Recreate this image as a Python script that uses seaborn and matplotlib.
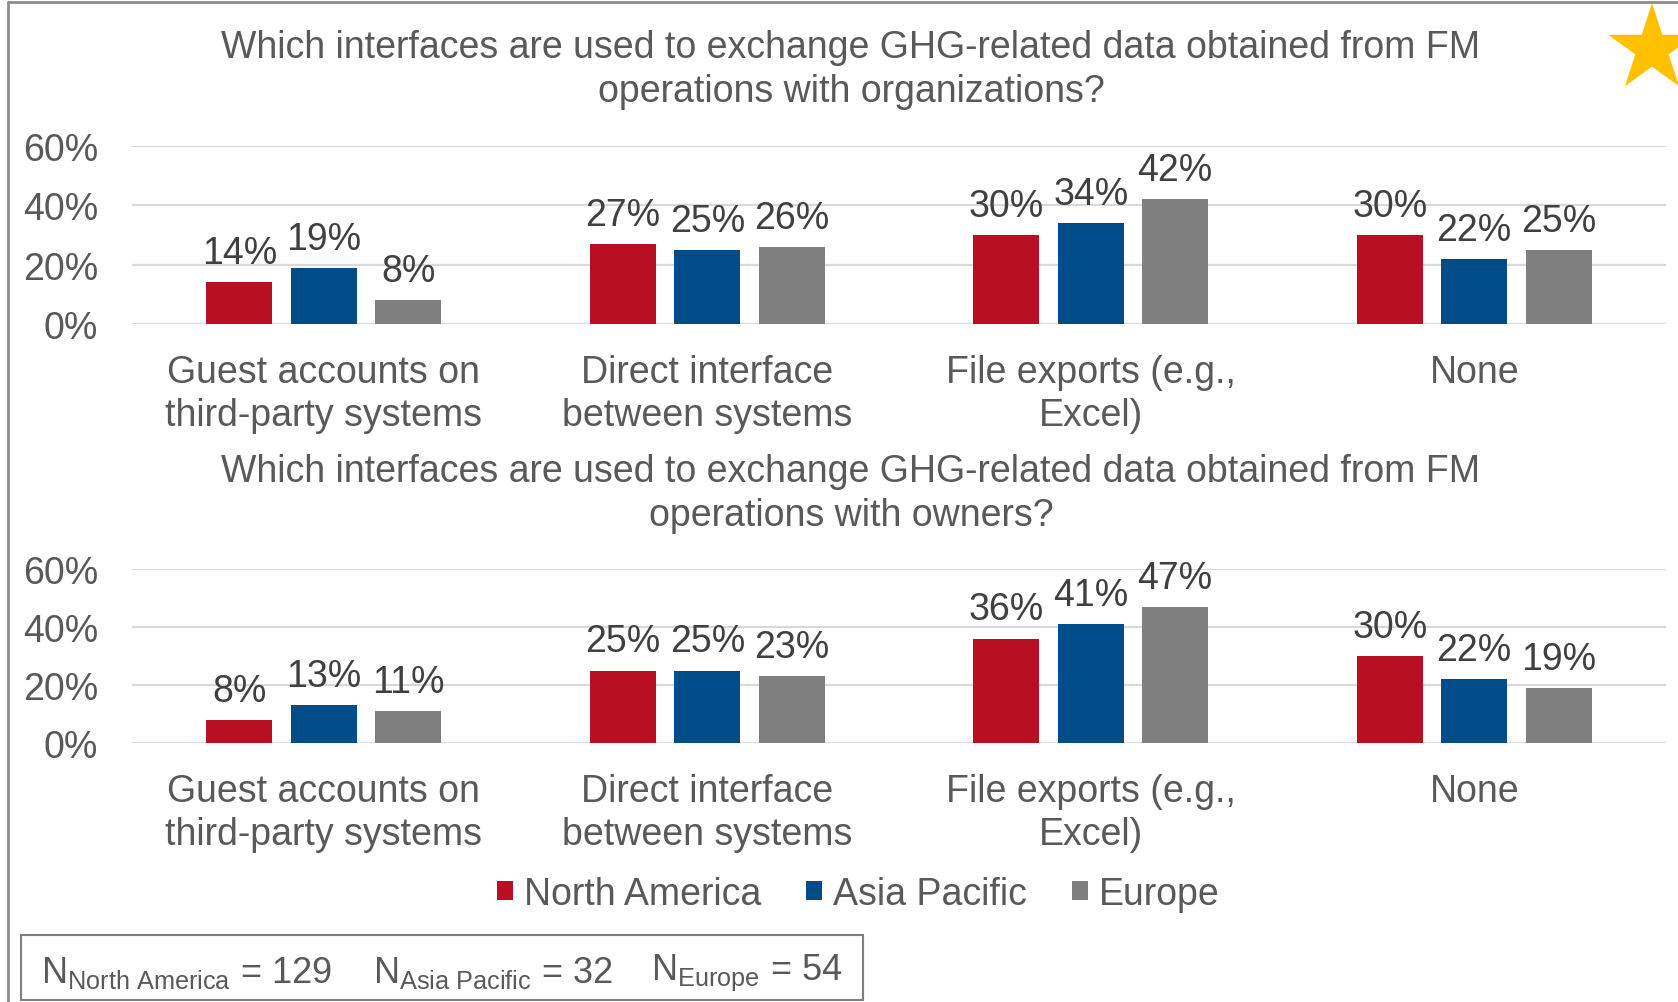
import numpy as np
import pandas as pd
import matplotlib
matplotlib.use("Agg")
import matplotlib.pyplot as plt
from matplotlib.lines import Line2D
from matplotlib.patches import Polygon, Rectangle
from matplotlib.ticker import PercentFormatter
import seaborn as sns

# ---- data -------------------------------------------------------------
categories = [
    "Guest accounts on\nthird-party systems",
    "Direct interface\nbetween systems",
    "File exports (e.g.,\nExcel)",
    "None",
]
regions = ["North America", "Asia Pacific", "Europe"]

# share of respondents (%) exchanging data with organizations
org_north_america = [14, 27, 30, 30]
org_asia_pacific = [19, 25, 34, 22]
org_europe = [8, 26, 42, 25]

# share of respondents (%) exchanging data with owners
own_north_america = [8, 25, 36, 30]
own_asia_pacific = [13, 25, 41, 22]
own_europe = [11, 23, 47, 19]

sample_sizes = [129, 32, 54]

title_org = ("Which interfaces are used to exchange GHG-related data obtained from FM\n"
             "operations with organizations?")
title_own = ("Which interfaces are used to exchange GHG-related data obtained from FM\n"
             "operations with owners?")

y_ticks = [0, 20, 40, 60]

# ---- style ------------------------------------------------------------
sns.set_theme(style="white")
plt.rcParams["font.family"] = ["Liberation Sans", "DejaVu Sans"]
plt.rcParams["mathtext.fontset"] = "custom"
plt.rcParams["mathtext.rm"] = "Liberation Sans"
plt.rcParams["mathtext.it"] = "Liberation Sans:italic"

TEXT = "#595959"
GRID = "#D9D9D9"
FS = 27
palette = {"North America": "#B80F22", "Asia Pacific": "#004C89", "Europe": "#7F7F7F"}

W, H = 1678, 1003
fig = plt.figure(figsize=(W / 100, H / 100), dpi=100)


def frac_box(left, top, right, bottom):
    """Pixel box -> figure-fraction rect."""
    return [left / W, 1 - bottom / H, (right - left) / W, (bottom - top) / H]


def long_frame(na, ap, eu):
    rows = []
    for vals, reg in zip([na, ap, eu], regions):
        for cat, v in zip(categories, vals):
            rows.append({"category": cat, "region": reg, "value": v})
    return pd.DataFrame(rows)


def draw_panel(ax, df, show_legend=False):
    sns.barplot(data=df, x="category", y="value", hue="region",
                order=categories, hue_order=regions, palette=palette,
                width=0.66, gap=0.22, saturation=1, legend=show_legend,
                linewidth=0, ax=ax, zorder=3)
    ax.set_ylim(0, 60)
    ax.set_xlim(-0.5, 3.5)
    ax.set_yticks(y_ticks)
    ax.yaxis.set_major_formatter(PercentFormatter(decimals=0))
    ax.grid(axis="y", color=GRID, linewidth=1.6, zorder=0)
    ax.set_axisbelow(True)
    for s in ax.spines.values():
        s.set_visible(False)
    ax.set_xlabel("")
    ax.set_ylabel("")
    ax.tick_params(axis="y", length=0, pad=24.5, labelsize=FS, labelcolor=TEXT)
    ax.tick_params(axis="x", length=0, pad=21.5, labelsize=FS, labelcolor=TEXT)
    for lab in ax.get_xticklabels():
        lab.set_linespacing(1.25)
    for cont in ax.containers:
        ax.bar_label(cont, labels=[f"{v:.0f}%" for v in cont.datavalues],
                     padding=8, fontsize=FS, color="#404040", clip_on=False)


ax1 = fig.add_axes(frac_box(132, 147, 1666, 325))
draw_panel(ax1, long_frame(org_north_america, org_asia_pacific, org_europe))

ax2 = fig.add_axes(frac_box(132, 570, 1666, 744))
draw_panel(ax2, long_frame(own_north_america, own_asia_pacific, own_europe), show_legend=True)

# titles
for title, y in [(title_org, 70), (title_own, 494)]:
    fig.text(851 / W, 1 - y / H, title, ha="center", va="center",
             fontsize=FS, color=TEXT, linespacing=1.27)

# legend below the second panel
handles, labels = ax2.get_legend_handles_labels()
ax2.get_legend().remove()
fig.legend(handles, labels, loc="center", bbox_to_anchor=(858 / W, 1 - 895 / H),
           ncol=3, frameon=False, fontsize=FS, labelcolor=TEXT,
           handlelength=0.43, handleheight=0.43, handletextpad=0.29,
           columnspacing=1.2, borderpad=0)

# sample-size box
fig.add_artist(Rectangle((21 / W, 1 - 1001 / H), (863 - 21) / W, (1001 - 936) / H,
                         transform=fig.transFigure, fill=False,
                         edgecolor="#7F7F7F", linewidth=1.5))
for x_px, reg, n in zip([41, 373, 651], regions, sample_sizes):
    fig.text(x_px / W, 1 - 973 / H,
             r"N$_{\mathrm{%s}}$ = %d" % (reg.replace(" ", r"\ "), n),
             ha="left", va="center", fontsize=26, color=TEXT)

# frame edges
fig.add_artist(Line2D([8 / W, 8 / W], [0, 1 - 3 / H], transform=fig.transFigure,
                      color="#8C8C8C", linewidth=2))
fig.add_artist(Line2D([8 / W, 1], [1 - 3 / H, 1 - 3 / H], transform=fig.transFigure,
                      color="#8C8C8C", linewidth=2))

# star badge in the corner
cx, cy, r_out, r_in = 1652, 50, 46, 46 * 0.382
pts = []
for k in range(10):
    ang = np.pi / 2 + k * np.pi / 5
    r = r_out if k % 2 == 0 else r_in
    pts.append(((cx + r * np.cos(ang)) / W, 1 - (cy - r * np.sin(ang)) / H))
fig.add_artist(Polygon(pts, closed=True, transform=fig.transFigure,
                       facecolor="#FFC000", edgecolor="none"))

fig.savefig("out.png", dpi=100)
